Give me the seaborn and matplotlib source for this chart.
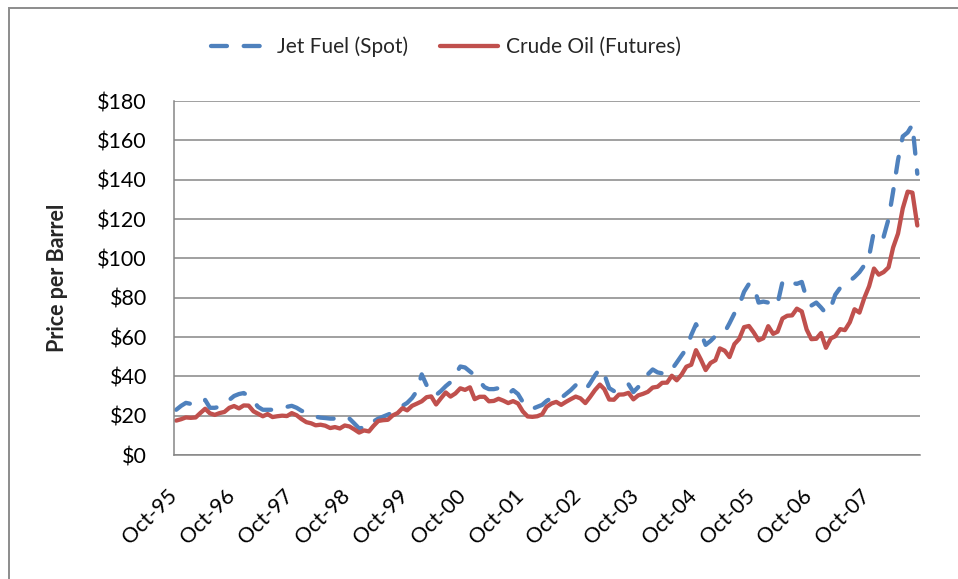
import matplotlib
matplotlib.use("Agg")
import matplotlib.pyplot as plt
import matplotlib.dates as mdates
import matplotlib.transforms as mtransforms
from matplotlib.patches import Rectangle
import pandas as pd
import seaborn as sns

# monthly values, Oct-95 .. Aug-08 ($ per barrel)
crude_oil = [
    17.5, 18.2, 19.1,                                                   # 1995 (Oct-Dec)
    18.9, 19.1, 21.3, 23.5, 21.2, 20.4, 21.3, 21.9, 24.0, 24.9, 23.7, 25.2,  # 1996
    25.1, 22.2, 21.0, 19.7, 20.8, 19.3, 19.7, 20.0, 19.8, 21.3, 20.2, 18.3,  # 1997
    16.7, 16.1, 15.1, 15.4, 14.9, 13.7, 14.2, 13.5, 15.0, 14.5, 13.0, 11.4,  # 1998
    12.5, 12.0, 14.7, 17.3, 17.7, 17.9, 20.1, 21.3, 23.8, 22.7, 25.0, 26.1,  # 1999
    27.3, 29.4, 29.8, 25.7, 28.8, 31.8, 29.7, 31.3, 33.9, 33.1, 34.4, 28.4,  # 2000
    29.6, 29.6, 27.3, 27.5, 28.6, 27.6, 26.4, 27.4, 26.2, 22.2, 19.6, 19.4,  # 2001
    19.7, 20.7, 24.5, 26.2, 27.0, 25.5, 27.0, 28.4, 29.7, 28.8, 26.4, 29.5,  # 2002
    33.0, 35.8, 33.5, 28.2, 28.1, 30.7, 30.8, 31.6, 28.3, 30.3, 31.1, 32.1,  # 2003
    34.3, 34.7, 36.7, 36.8, 40.3, 38.0, 40.8, 44.9, 45.9, 53.3, 48.5, 43.2,  # 2004
    46.8, 48.2, 54.2, 53.0, 49.8, 56.4, 59.0, 65.0, 65.6, 62.3, 58.3, 59.4,  # 2005
    65.5, 61.6, 62.7, 69.4, 70.8, 71.0, 74.4, 73.0, 63.8, 58.9, 59.1, 62.0,  # 2006
    54.5, 59.3, 60.4, 64.0, 63.5, 67.5, 74.1, 72.4, 79.9, 85.8, 94.8, 91.7,  # 2007
    93.0, 95.4, 105.5, 112.6, 125.4, 133.9, 133.4, 116.7,                    # 2008 (Jan-Aug)
]

jet_fuel = [
    23.0, 25.0, 26.5,                                                   # 1995 (Oct-Dec)
    26.0, 25.5, 26.0, 28.0, 24.0, 24.0, 24.5, 26.0, 28.0, 30.0, 31.0, 31.5,  # 1996
    30.0, 27.5, 24.5, 23.0, 23.0, 23.0, 23.5, 24.0, 24.5, 25.0, 24.0, 22.5,  # 1997
    21.5, 20.5, 19.5, 19.0, 18.8, 18.5, 18.5, 18.5, 19.5, 18.5, 16.0, 13.5,  # 1998
    14.0, 14.0, 17.0, 18.5, 19.5, 20.5, 21.5, 23.0, 25.0, 26.5, 29.0, 32.5,  # 1999
    41.0, 35.5, 34.5, 30.5, 32.5, 35.0, 37.0, 41.0, 45.0, 44.5, 42.5, 40.5,  # 2000
    37.5, 34.5, 33.5, 33.5, 34.0, 32.5, 31.0, 33.0, 31.0, 27.0, 24.0, 23.5,  # 2001
    24.5, 25.5, 27.5, 29.0, 28.5, 29.0, 31.0, 33.0, 35.5, 35.5, 33.0, 36.5,  # 2002
    40.5, 44.0, 41.0, 34.0, 32.5, 33.5, 35.5, 36.0, 32.0, 34.5, 37.0, 41.0,  # 2003
    43.5, 42.0, 41.5, 41.0, 43.5, 47.0, 50.5, 54.0, 61.0, 66.5, 62.0, 56.0,  # 2004
    58.0, 60.5, 61.5, 62.5, 67.0, 72.0, 76.0, 83.0, 87.0, 86.0, 77.5, 78.0,  # 2005
    77.5, 75.5, 77.0, 88.0, 89.5, 87.5, 87.0, 88.0, 79.5, 76.0, 77.5, 75.0,  # 2006
    72.0, 75.0, 81.5, 85.0, 87.5, 88.5, 90.5, 93.0, 96.5, 101.0, 114.0, 112.0,  # 2007
    111.0, 120.0, 134.0, 150.0, 162.0, 164.0, 168.0, 143.0,                  # 2008 (Jan-Aug)
]

y_ticks = list(range(0, 181, 20))

BLUE = "#4F81BD"
RED = "#C0504D"
GRID = "#868686"

# points sit in the middle of each month, ticks on month boundaries (Excel date axis)
months = pd.date_range("1995-10-01", periods=len(crude_oil), freq="MS") + pd.Timedelta(days=14)
df = pd.DataFrame({"month": months, "jet": jet_fuel, "crude": crude_oil})

sns.set_style("white")
plt.rcParams["font.family"] = ["Lato", "DejaVu Sans"]

fig = plt.figure(figsize=(9.58, 5.79), dpi=100)
ax = fig.add_axes([174 / 958, 1 - 455 / 579, 746 / 958, 354 / 579])

sns.lineplot(data=df, x="month", y="jet", ax=ax, color=BLUE, linewidth=3.1, label="Jet Fuel (Spot)")
jet_line = ax.lines[-1]
jet_line.set_dashes((3.7, 3.9))
jet_line.set_dash_capstyle("round")
jet_line.set_dash_joinstyle("round")

sns.lineplot(data=df, x="month", y="crude", ax=ax, color=RED, linewidth=3.1, label="Crude Oil (Futures)")
crude_line = ax.lines[-1]
crude_line.set_solid_capstyle("round")
crude_line.set_solid_joinstyle("round")

ax.set_ylim(0, 180)
ax.set_yticks(y_ticks)
ax.yaxis.set_major_formatter(matplotlib.ticker.StrMethodFormatter("${x:,.0f}"))
ax.set_xlim(pd.Timestamp("1995-10-01"), pd.Timestamp("2008-09-01"))
ax.xaxis.set_major_locator(mdates.MonthLocator(bymonth=10, bymonthday=1))
ax.xaxis.set_major_formatter(mdates.DateFormatter("%b-%y"))

ax.yaxis.grid(True, color=GRID, linewidth=1.1)
ax.set_axisbelow(True)
sns.despine(ax=ax)
for side in ["left", "bottom"]:
    ax.spines[side].set_color(GRID)
    ax.spines[side].set_linewidth(1.1)

ax.tick_params(axis="y", length=6, width=1.1, color=GRID, pad=13.5, labelsize=15.5, labelcolor="black")
ax.tick_params(axis="x", length=6, width=1.1, color=GRID, pad=16, labelsize=15.5, labelcolor="black")
offset = mtransforms.ScaledTranslation(7 / 100, 0, fig.dpi_scale_trans)
for label in ax.get_xticklabels():
    label.set_rotation(45)
    label.set_ha("right")
    label.set_va("top")
    label.set_transform(label.get_transform() + offset)

ax.set_xlabel("")
ax.set_ylabel("Price per Barrel", fontsize=15.5, fontweight="bold")
ax.yaxis.set_label_coords(-0.142, 0.5)

handles, labels = ax.get_legend_handles_labels()
ax.get_legend().remove()
fig.legend(
    handles, labels,
    loc="center",
    bbox_to_anchor=(446 / 958, 1 - 47 / 579),
    ncol=2,
    frameon=False,
    fontsize=15,
    handlelength=2.8,
    handletextpad=0.4,
    columnspacing=1.5,
)

# chart area border
fig.patches.append(
    Rectangle((8.5 / 958, -0.05), 1.2, 1.05 - 7.5 / 579, transform=fig.transFigure,
              fill=False, edgecolor="#8c8c8c", linewidth=1.4)
)

fig.savefig("out.png", dpi=100)
